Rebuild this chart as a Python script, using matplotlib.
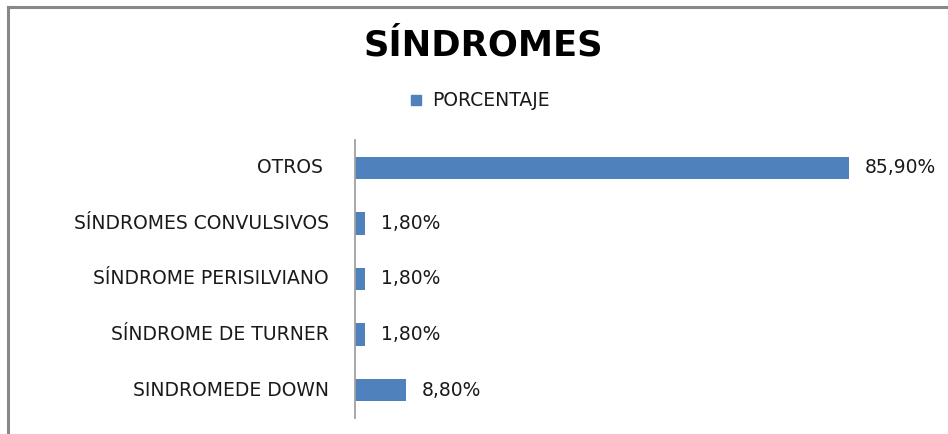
import matplotlib
matplotlib.use("Agg")
import matplotlib.pyplot as plt
from matplotlib.patches import Rectangle
from matplotlib.lines import Line2D

categories = ["SINDROMEDE DOWN", "SÍNDROME DE TURNER", "SÍNDROME PERISILVIANO",
              "SÍNDROMES CONVULSIVOS", "OTROS "]
values = [8.8, 1.8, 1.8, 1.8, 85.9]
value_labels = ["8,80%", "1,80%", "1,80%", "1,80%", "85,90%"]
series_name = "PORCENTAJE"
title = "SÍNDROMES"

plt.rcParams['font.family'] = ['DejaVu Sans']
BLUE = "#4f81bd"
TXT = "#1a1a1a"
FS = 13.5

fig = plt.figure(figsize=(9.48, 4.34), dpi=100)
W, H = 948, 434

# chart border (only top and left visible)
fig.add_artist(Line2D([8/W, 8/W], [0, 1 - 7/H], transform=fig.transFigure, color="#888888", lw=2.2))
fig.add_artist(Line2D([8/W, 1], [1 - 7/H, 1 - 7/H], transform=fig.transFigure, color="#888888", lw=2.2))

ax = fig.add_axes([355/W, 16/H, 546/W, 278/H])
y = range(len(categories))
ax.barh(y, values, height=0.4, color=BLUE)
ax.set_xlim(0, 95)
ax.set_ylim(-0.5, len(categories) - 0.5)
ax.set_yticks(list(y))
ax.set_yticklabels(categories, fontsize=FS, color=TXT, va="center")
ax.tick_params(axis='y', length=0, pad=19)
ax.set_xticks([])
for s in ["top", "right", "bottom"]:
    ax.spines[s].set_visible(False)
ax.spines["left"].set_color("#a0a0a0")
ax.spines["left"].set_linewidth(1.3)

for yi, v, lab in zip(y, values, value_labels):
    ax.annotate(lab, (v, yi), xytext=(16, 0), textcoords="offset pixels",
                va="center", ha="left", fontsize=FS, color=TXT)

fig.text(483/W, 1 - 45/H, title, ha="center", va="center", fontsize=25.5, fontweight="bold", color="#000000")

# legend
fig.add_artist(Rectangle((411/W, 1 - 105/H), 10/W, 10/H, transform=fig.transFigure, color=BLUE))
fig.text(432/W, 1 - 100/H, series_name, ha="left", va="center", fontsize=FS, color=TXT)

fig.savefig("out.png", dpi=100, facecolor="white")
